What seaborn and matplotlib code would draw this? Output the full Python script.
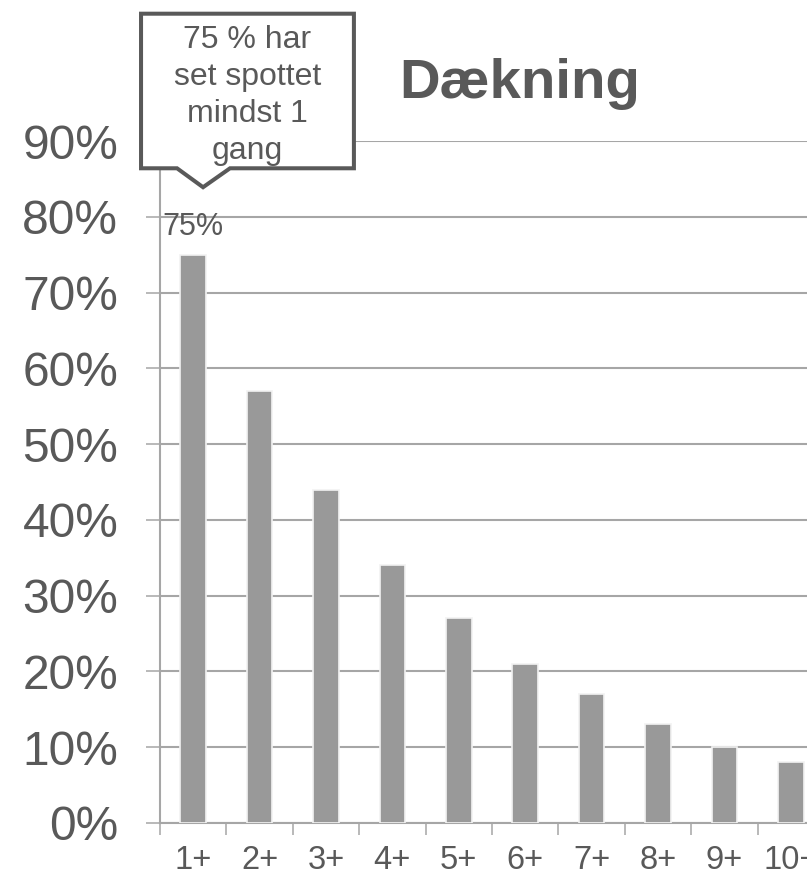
import numpy as np
import pandas as pd
import matplotlib
matplotlib.use("Agg")
import matplotlib.pyplot as plt
from matplotlib.patches import Polygon
from matplotlib.ticker import PercentFormatter
import seaborn as sns

# --- data ---
frequency = ['1+', '2+', '3+', '4+', '5+', '6+', '7+', '8+', '9+', '10+']
coverage = [75, 57, 44, 34, 27, 21, 17, 13, 10, 8]
y_ticks = [0, 10, 20, 30, 40, 50, 60, 70, 80, 90]
title = 'Dækning'
callout_text = '75 % har\nset spottet\nmindst 1\ngang'

df = pd.DataFrame({'frequency': frequency, 'coverage': coverage})

sns.set_theme(style='white')
plt.rcParams['font.family'] = ['Liberation Sans', 'DejaVu Sans']

text_col = '#595959'
grid_col = '#a6a6a6'
bar_col = '#999999'

fig = plt.figure(figsize=(8.07, 8.72), dpi=100)
ax = fig.add_axes([0.1983, 0.0562, 0.8228, 0.7821])

sns.barplot(data=df, x='frequency', y='coverage', color=bar_col, saturation=1,
            width=0.385, edgecolor='#f2f2f2', linewidth=1.2, ax=ax, zorder=3)

ax.set_xlim(-0.5, len(frequency) - 0.5)
ax.set_ylim(0, 90)
ax.set_yticks(y_ticks)
ax.yaxis.set_major_formatter(PercentFormatter(xmax=100, decimals=0))
ax.set_xlabel('')
ax.set_ylabel('')

# gridlines + spines
ax.set_axisbelow(True)
ax.yaxis.grid(True, color=grid_col, linewidth=1.5)
ax.xaxis.grid(False)
for side in ['top', 'right']:
    ax.spines[side].set_visible(False)
for side in ['left', 'bottom']:
    ax.spines[side].set_color(grid_col)
    ax.spines[side].set_linewidth(1.5)

# ticks: y outward, x tick marks between categories
ax.tick_params(axis='y', length=10, width=1.1, color=grid_col, direction='out',
               pad=20, labelsize=34.5, labelcolor=text_col, left=True)
ax.tick_params(axis='x', which='major', length=0, pad=16, labelsize=23.5,
               labelcolor=text_col)
ax.set_xticks(np.arange(-0.5, len(frequency), 1), minor=True)
ax.tick_params(axis='x', which='minor', length=8.5, width=1.1, color=grid_col,
               direction='out', bottom=True)

# value label on first bar
ax.annotate(f'{coverage[0]}%', xy=(0, coverage[0]), xytext=(0, 14),
            textcoords='offset points', ha='center', va='baseline',
            fontsize=22, color=text_col, zorder=5)

# callout box pointing at first bar
box = [(-0.786, 106.8), (2.42, 106.8), (2.42, 86.4), (0.554, 86.4),
       (0.148, 83.9), (-0.244, 86.4), (-0.786, 86.4)]
ax.add_patch(Polygon(box, closed=True, facecolor='white', edgecolor='#595959',
                     linewidth=2.9, joinstyle='miter', clip_on=False, zorder=6))
ax.text(0.817, 96.0, callout_text, ha='center', va='center', fontsize=23,
        color=text_col, linespacing=1.3, zorder=7, clip_on=False)

fig.text(520 / 807, 1 - 98 / 872, title, ha='center', va='baseline',
         fontsize=40.5, fontweight='bold', color=text_col)

fig.savefig('out.png', dpi=100)
